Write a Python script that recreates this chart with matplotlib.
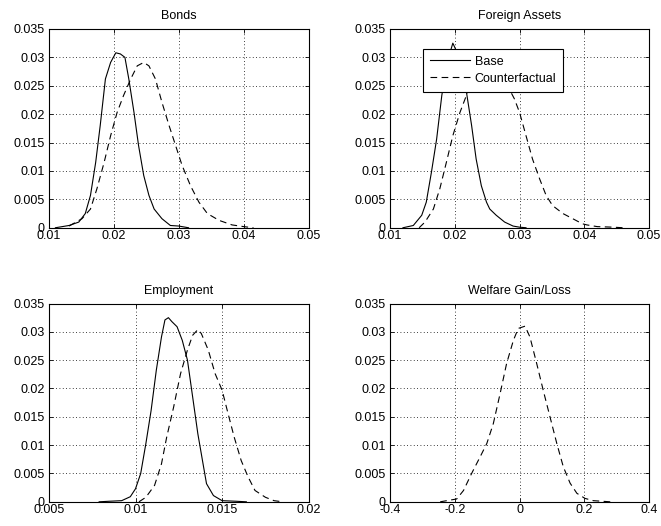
import numpy as np
import matplotlib
matplotlib.use('Agg')
import matplotlib.pyplot as plt

plt.rcParams['font.family'] = ['Liberation Sans', 'DejaVu Sans']
plt.rcParams['font.size'] = 9

# Bonds
bonds_base_x = [0.011, 0.0131, 0.0146, 0.0156, 0.0164, 0.0172, 0.0179, 0.0187, 0.0195, 0.0203, 0.021,
                0.0217, 0.0223, 0.0231, 0.0238, 0.0246, 0.0254, 0.0262, 0.0274, 0.0287, 0.03, 0.0315]
bonds_base_y = [0.0, 0.0004, 0.001, 0.0025, 0.0057, 0.0115, 0.018, 0.0262, 0.0291, 0.0308, 0.0306,
                0.030, 0.0262, 0.0203, 0.0145, 0.0092, 0.0057, 0.0033, 0.0016, 0.0004, 0.0003, 0.0]
bonds_cf_x = [0.0131, 0.0151, 0.0164, 0.0174, 0.0185, 0.0195, 0.0205, 0.0215, 0.0226, 0.0236, 0.0246,
              0.0254, 0.0264, 0.0274, 0.0285, 0.0295, 0.0305, 0.0318, 0.0331, 0.0344, 0.0362, 0.0382,
              0.040, 0.0415]
bonds_cf_y = [0.0003, 0.0016, 0.0033, 0.0069, 0.0115, 0.0162, 0.0203, 0.0233, 0.0262, 0.0285, 0.0291,
              0.0285, 0.0262, 0.0221, 0.018, 0.0145, 0.011, 0.0074, 0.0045, 0.0025, 0.0013, 0.0005,
              0.0002, 0.0]

# Foreign assets
fa_base_x = [0.012, 0.0136, 0.0149, 0.0156, 0.0164, 0.0172, 0.018, 0.0188, 0.0197, 0.0205, 0.0212,
             0.0218, 0.0226, 0.0233, 0.0241, 0.0249, 0.0254, 0.0264, 0.0277, 0.029, 0.030, 0.031]
fa_base_y = [0.0, 0.0004, 0.0022, 0.0045, 0.0098, 0.0156, 0.0233, 0.029, 0.0325, 0.0305, 0.0275,
             0.0239, 0.018, 0.0121, 0.0074, 0.0045, 0.0033, 0.0022, 0.001, 0.0003, 0.0001, 0.0]
fa_cf_x = [0.0145, 0.0154, 0.0167, 0.0177, 0.0187, 0.0197, 0.0208, 0.0218, 0.0228, 0.024, 0.0252,
           0.0264, 0.0276, 0.0292, 0.030, 0.031, 0.032, 0.0331, 0.0341, 0.0351, 0.0367, 0.0382,
           0.0397, 0.0404, 0.042, 0.0445, 0.046]
fa_cf_y = [0.0, 0.001, 0.0033, 0.0069, 0.0115, 0.0162, 0.0203, 0.0233, 0.0262, 0.0283, 0.029,
           0.0284, 0.0262, 0.0227, 0.0203, 0.0162, 0.0121, 0.0086, 0.0057, 0.0039, 0.0025, 0.0016,
           0.0007, 0.0005, 0.0002, 0.0001, 0.0]

# Employment
emp_base_x = [0.0079, 0.0085, 0.0092, 0.0097, 0.010, 0.0103, 0.0106, 0.0109, 0.0112, 0.0115, 0.0117,
              0.0119, 0.0121, 0.0124, 0.0127, 0.013, 0.0133, 0.0136, 0.0139, 0.0141, 0.0145, 0.015,
              0.0158, 0.0164]
emp_base_y = [0.0, 0.0001, 0.0002, 0.0009, 0.0023, 0.005, 0.0103, 0.0161, 0.0232, 0.0291, 0.0321,
              0.0325, 0.0318, 0.0309, 0.0285, 0.025, 0.0185, 0.012, 0.0067, 0.0032, 0.0011, 0.0002,
              0.0001, 0.0]
emp_cf_x = [0.0102, 0.0106, 0.0111, 0.0115, 0.0118, 0.0122, 0.0126, 0.013, 0.0133, 0.0136, 0.0138,
            0.0142, 0.0146, 0.015, 0.0153, 0.0157, 0.0161, 0.0165, 0.0169, 0.0175, 0.018, 0.0185]
emp_cf_y = [0.0, 0.0008, 0.0029, 0.0067, 0.0114, 0.0167, 0.0226, 0.0268, 0.0294, 0.0304, 0.0297,
            0.0268, 0.0226, 0.0197, 0.0161, 0.0114, 0.0073, 0.0044, 0.002, 0.0008, 0.0002, 0.0]

# Welfare gain/loss
wel_cf_x = [-0.245, -0.194, -0.173, -0.148, -0.122, -0.101, -0.081, -0.06, -0.04, -0.019, -0.004,
            0.017, 0.032, 0.053, 0.073, 0.094, 0.115, 0.135, 0.156, 0.177, 0.202, 0.228, 0.28]
wel_cf_y = [0.0, 0.0005, 0.002, 0.005, 0.0079, 0.0103, 0.0138, 0.0191, 0.0244, 0.0285, 0.0306,
            0.031, 0.0291, 0.0244, 0.0197, 0.015, 0.0103, 0.0062, 0.0033, 0.0015, 0.0006, 0.0002, 0.0]

y_ticks = [0, 0.005, 0.01, 0.015, 0.02, 0.025, 0.03, 0.035]
y_labels = ['0', '0.005', '0.01', '0.015', '0.02', '0.025', '0.03', '0.035']
top_ticks = [0.01, 0.02, 0.03, 0.04, 0.05]
top_labels = ['0.01', '0.02', '0.03', '0.04', '0.05']
emp_ticks = [0.005, 0.01, 0.015, 0.02]
emp_labels = ['0.005', '0.01', '0.015', '0.02']
wel_ticks = [-0.4, -0.2, 0, 0.2, 0.4]
wel_labels = ['-0.4', '-0.2', '0', '0.2', '0.4']

fig = plt.figure(figsize=(6.61, 5.26), dpi=100)
positions = [[0.074, 0.567, 0.393, 0.378], [0.590, 0.567, 0.392, 0.378],
             [0.074, 0.046, 0.393, 0.377], [0.590, 0.046, 0.392, 0.377]]
titles = ['Bonds', 'Foreign Assets', 'Employment', 'Welfare Gain/Loss']
xt = [(top_ticks, top_labels), (top_ticks, top_labels), (emp_ticks, emp_labels), (wel_ticks, wel_labels)]
series = [(bonds_base_x, bonds_base_y, bonds_cf_x, bonds_cf_y),
          (fa_base_x, fa_base_y, fa_cf_x, fa_cf_y),
          (emp_base_x, emp_base_y, emp_cf_x, emp_cf_y),
          (None, None, wel_cf_x, wel_cf_y)]

axes = []
for i in range(4):
    ax = fig.add_axes(positions[i])
    bx, by, cx, cy = series[i]
    if bx is not None:
        ax.plot(bx, by, color='k', lw=0.8, label='Base')
    else:
        ax.plot([], [], color='k', lw=0.8, label='Base')
    ax.plot(cx, cy, color='k', lw=0.8, ls=(0, (6, 4)), label='Counterfactual')
    ticks, labels = xt[i]
    ax.set_xlim(ticks[0], ticks[-1])
    ax.set_ylim(0, 0.035)
    ax.set_xticks(ticks)
    ax.set_xticklabels(labels)
    ax.set_yticks(y_ticks)
    ax.set_yticklabels(y_labels)
    ax.grid(True, color='k', ls=(0, (1, 3)), lw=0.6)
    ax.tick_params(direction='in', length=3, width=0.6, top=True, right=True, labelsize=9)
    ax.tick_params(axis='x', pad=1.5)
    ax.tick_params(axis='y', pad=3)
    for s in ax.spines.values():
        s.set_linewidth(0.8)
    ax.set_title(titles[i], fontsize=9, pad=7)
    axes.append(ax)

leg = axes[1].legend(loc='upper left', bbox_to_anchor=(0.127, 0.9), fontsize=9, frameon=True,
                     fancybox=False, edgecolor='k', framealpha=1, borderpad=0.55, handlelength=3.2,
                     labelspacing=0.4, handletextpad=0.4, borderaxespad=0)
leg.get_frame().set_linewidth(0.8)

fig.savefig('out.png', dpi=100)
